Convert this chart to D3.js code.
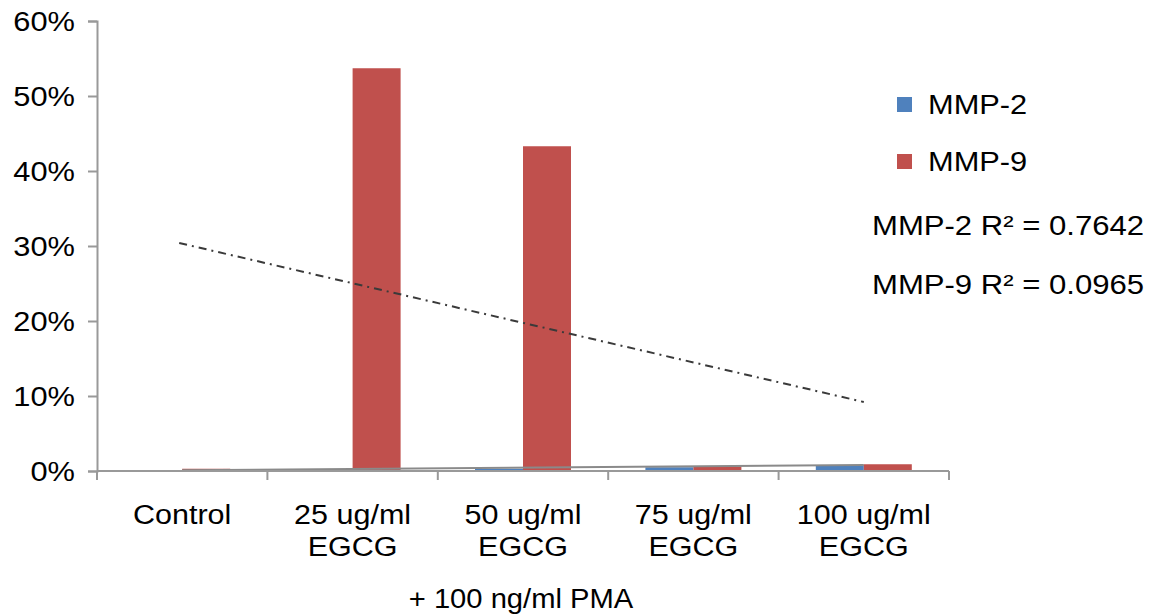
<!DOCTYPE html>
<html lang="en">
<head>
  <meta charset="UTF-8">
  <title>MMP-2 / MMP-9</title>
  <script src="https://d3js.org/d3.v7.min.js"></script>
  <style>
    body { margin: 0; background: #fff; }
    text { font-family: "Liberation Sans", Arial, sans-serif; fill: #000; }
  </style>
</head>
<body>
<svg id="grafico"></svg>
<script>
  // dados
  const categorias = ["Control", "25 ug/ml\nEGCG", "50 ug/ml\nEGCG", "75 ug/ml\nEGCG", "100 ug/ml\nEGCG"];
  const series = ["MMP-2", "MMP-9"];
  const mmp2 = [0.000, 0.002, 0.003, 0.005, 0.008];
  const mmp9 = [0.003, 0.537, 0.433, 0.006, 0.009];
  const tendencia9 = [0.304, 0.092];   // linha de tendência MMP-9 (início, fim)
  const tendencia2 = [0.001, 0.008];   // linha de tendência MMP-2
  const ticksY = [0, 0.1, 0.2, 0.3, 0.4, 0.5, 0.6];
  const textosR2 = ["MMP-2 R\u00b2 = 0.7642", "MMP-9 R\u00b2 = 0.0965"];
  const cores = ["#4F81BD", "#C0504D"];

  const largura = 1154, altura = 616;
  const margem = { topo: 21, direita: 205, inferior: 145, esquerda: 97 };
  const larguraInterna = largura - margem.esquerda - margem.direita;
  const alturaInterna = altura - margem.topo - margem.inferior;

  const svg = d3.select("#grafico").attr("width", largura).attr("height", altura);
  const g = svg.append("g").attr("transform", `translate(${margem.esquerda},${margem.topo})`);

  const x = d3.scaleBand().domain(d3.range(categorias.length)).range([0, larguraInterna]);
  const xs = d3.scaleBand().domain(series).range([x.bandwidth() / 2 - 48, x.bandwidth() / 2 + 48]);
  const y = d3.scaleLinear().domain([0, 0.6]).range([alturaInterna, 0]);

  // estica o texto na horizontal (a fonte do original é mais larga)
  function esticar(sel, k) {
    sel.each(function () {
      const w = this.getComputedTextLength();
      d3.select(this).attr("textLength", w * k).attr("lengthAdjust", "spacingAndGlyphs");
    });
  }

  // barras
  const dados = categorias.map((c, i) => ({ i, valores: [mmp2[i], mmp9[i]] }));
  const grupos = g.selectAll(".grupo").data(dados).enter().append("g")
      .attr("transform", d => `translate(${x(d.i)},0)`);
  grupos.selectAll("rect").data(d => d.valores.map((v, k) => ({ v, k })))
    .enter().append("rect")
      .attr("x", d => xs(series[d.k]))
      .attr("width", xs.bandwidth())
      .attr("y", d => y(d.v))
      .attr("height", d => alturaInterna - y(d.v))
      .attr("fill", d => cores[d.k]);

  // linhas de tendência
  const cx = i => x(i) + x.bandwidth() / 2;
  const n = categorias.length - 1;
  g.append("line")
      .attr("x1", cx(0)).attr("y1", y(tendencia2[0]))
      .attr("x2", cx(n)).attr("y2", y(tendencia2[1]))
      .attr("stroke", "#8a8a8a").attr("stroke-width", 2);
  g.append("line")
      .attr("x1", cx(0) - 3).attr("y1", y(tendencia9[0]))
      .attr("x2", cx(n)).attr("y2", y(tendencia9[1]))
      .attr("stroke", "#3a3a3a").attr("stroke-width", 2)
      .attr("stroke-dasharray", "8,5,2,5");

  // eixo Y
  const eixoY = g.append("g").call(d3.axisLeft(y).tickValues(ticksY).tickFormat(d3.format(".0%")).tickSizeOuter(0).tickSize(9).tickPadding(13));
  eixoY.select(".domain").attr("stroke", "#999").attr("stroke-width", 2);
  eixoY.selectAll(".tick line").attr("stroke", "#999").attr("stroke-width", 2);
  eixoY.selectAll(".tick text").attr("font-size", 28).attr("font-family", null).attr("dy", "0.34em");
  esticar(eixoY.selectAll(".tick text"), 1.1);

  // eixo X
  const eixoX = g.append("g").attr("transform", `translate(0,${alturaInterna})`);
  eixoX.append("line").attr("x1", 0).attr("x2", larguraInterna).attr("stroke", "#999").attr("stroke-width", 2);
  eixoX.selectAll(".tk").data(d3.range(categorias.length + 1)).enter().append("line")
      .attr("x1", d => d * x.step()).attr("x2", d => d * x.step())
      .attr("y1", 0).attr("y2", 9).attr("stroke", "#999").attr("stroke-width", 2);
  categorias.forEach((c, i) => {
    const t = eixoX.append("text").attr("y", 53)
        .attr("text-anchor", "middle").attr("font-size", 27);
    c.split("\n").forEach((linha, j) => {
      t.append("tspan").attr("x", cx(i)).attr("dy", j === 0 ? 0 : 32).text(linha);
    });
    esticar(t.selectAll("tspan"), 1.13);
  });
  const pma = eixoX.append("text").attr("x", cx(2) - 2).attr("y", 137)
      .attr("text-anchor", "middle").attr("font-size", 27).text("+ 100 ng/ml PMA");
  esticar(pma, 1.08);

  // legenda
  const legenda = svg.append("g").attr("transform", "translate(897,97)");
  series.forEach((s, k) => {
    legenda.append("rect").attr("x", 0).attr("y", k * 57).attr("width", 15).attr("height", 15).attr("fill", cores[k]);
    const t = legenda.append("text").attr("x", 31).attr("y", k * 57 + 17).attr("font-size", 28).text(s);
    esticar(t, 1.1);
  });
  textosR2.forEach((s, k) => {
    const t = svg.append("text").attr("x", 872).attr("y", 235 + k * 59).attr("font-size", 28).text(s);
    esticar(t, 1.11);
  });
</script>
</body>
</html>
